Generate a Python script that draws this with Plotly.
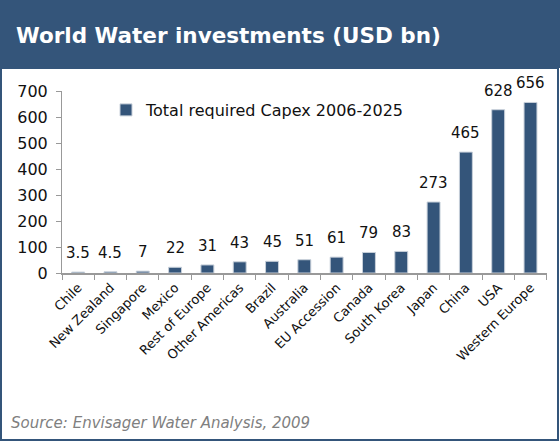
import plotly.graph_objects as go

categories = ["Chile", "New Zealand", "Singapore", "Mexico", "Rest of Europe",
              "Other Americas", "Brazil", "Australia", "EU Accession", "Canada",
              "South Korea", "Japan", "China", "USA", "Western Europe"]
values = [3.5, 4.5, 7, 22, 31, 43, 45, 51, 61, 79, 83, 273, 465, 628, 656]
value_labels = ["3.5", "4.5", "7", "22", "31", "43", "45", "51", "61", "79", "83",
                "273", "465", "628", "656"]
y_ticks = [0, 100, 200, 300, 400, 500, 600, 700]

BLUE = "#34557A"
FONT = "DejaVu Sans"

W, H = 560, 442
ML, MR, MT, MB = 62, 13, 91, 169
pw, ph = W - ML - MR, H - MT - MB
def px(x): return (x - ML) / pw
def py(y): return (H - MB - y) / ph

fig = go.Figure()
fig.add_trace(go.Bar(
    x=categories, y=values, name="Total required Capex 2006-2025",
    marker=dict(color=BLUE, line=dict(color="#c8d0da", width=1)),
    showlegend=True,
))

for c, v, t in zip(categories, values, value_labels):
    fig.add_annotation(x=c, y=v, text=t, showarrow=False, yshift=19,
                       font=dict(family=FONT, size=15, color="#111111"))

fig.update_layout(
    width=W, height=H,
    margin=dict(l=ML, r=MR, t=MT, b=MB),
    paper_bgcolor="white", plot_bgcolor="white",
    bargap=0.6,
    font=dict(family=FONT, color="#111111"),
    showlegend=True,
    legend=dict(x=px(106), y=py(110), xanchor="left", yanchor="middle",
                bgcolor="rgba(0,0,0,0)", font=dict(family=FONT, size=16),
                itemwidth=30),
    xaxis=dict(type="category", tickangle=-45, tickfont=dict(family=FONT, size=13),
               showline=True, linecolor="#999999", linewidth=2,
               ticks="outside", ticklen=5, tickcolor="#999999", tickwidth=1,
               tickson="boundaries", showgrid=False),
    yaxis=dict(range=[0, 700], tickvals=y_ticks, tickfont=dict(family=FONT, size=16),
               showline=True, linecolor="#999999", linewidth=1,
               ticks="outside", ticklen=5, tickcolor="#999999",
               ticklabelstandoff=5,
               showgrid=False, zeroline=False),
)

fig.add_shape(type="rect", xref="paper", yref="paper", x0=px(0), x1=px(560),
              y0=py(68), y1=py(0), fillcolor=BLUE, line=dict(width=0), layer="below")
fig.add_shape(type="rect", xref="paper", yref="paper", x0=px(1), x1=px(558),
              y0=py(440), y1=py(68), fillcolor="rgba(0,0,0,0)",
              line=dict(color=BLUE, width=2), layer="below")

fig.add_annotation(xref="paper", yref="paper", x=px(14), y=py(35), xanchor="left",
                   yanchor="middle", showarrow=False,
                   text="<b>World Water investments (USD bn)</b>",
                   font=dict(family=FONT, size=21.5, color="white"))
fig.add_annotation(xref="paper", yref="paper", x=px(9), y=py(423), xanchor="left",
                   yanchor="middle", showarrow=False,
                   text="<i>Source: Envisager Water Analysis, 2009</i>",
                   font=dict(family=FONT, size=15, color="#808080"))

fig.write_html("out.html", config={"displayModeBar": False},
               post_script="document.body.style.margin='0';")
